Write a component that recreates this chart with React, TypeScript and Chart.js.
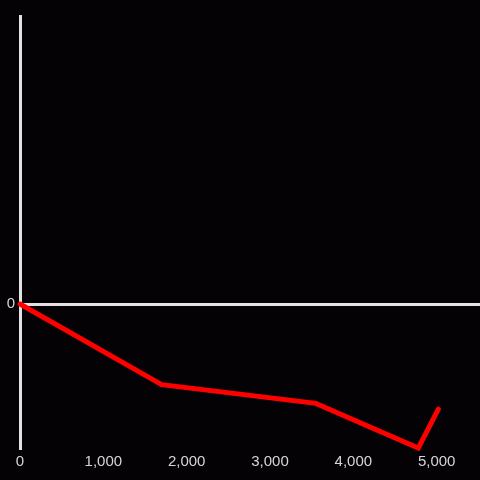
import React, { useEffect, useRef } from "react";
import { Chart, registerables } from "chart.js";

Chart.register(...registerables);

const xValues = [0, 1700, 3550, 4780, 5020];
const yValues = [0, -56, -69, -100, -73];
const xTickValues = [0, 1000, 2000, 3000, 4000, 5000];
const yTickValues = [0];

export default function App() {
  const ref = useRef<HTMLCanvasElement | null>(null);

  useEffect(() => {
    document.body.style.margin = "0";
    const canvas = ref.current;
    if (!canvas) return;
    const chart = new Chart(canvas, {
      type: "line",
      data: {
        datasets: [
          {
            data: xValues.map((x, i) => ({ x, y: yValues[i] })),
            borderColor: "#ff0000",
            borderWidth: 5,
            pointRadius: 0,
            tension: 0,
            fill: false,
            clip: false as any,
            borderCapStyle: "round",
          },
        ],
      },
      options: {
        animation: false,
        responsive: false,
        maintainAspectRatio: false,
        layout: { padding: { top: 16, right: 0, left: 0, bottom: 0 } },
        plugins: { legend: { display: false }, tooltip: { enabled: false } },
        scales: {
          x: {
            type: "linear",
            min: 0,
            max: 5520,
            afterBuildTicks: (s: any) => {
              s.ticks = xTickValues.map((v) => ({ value: v }));
            },
            afterFit: (s: any) => {
              s.height = 32;
            },
            grid: { display: false, drawTicks: false },
            border: { display: false },
            ticks: {
              color: "#d6d6d6",
              padding: 5,
              maxRotation: 0,
              font: { size: 15, family: "'Liberation Sans', Arial, sans-serif" },
              callback: (v: any) => Number(v).toLocaleString("en-US"),
            },
          },
          y: {
            type: "linear",
            min: -100,
            max: 200,
            afterBuildTicks: (s: any) => {
              s.ticks = yTickValues.map((v) => ({ value: v }));
            },
            afterFit: (s: any) => {
              s.width = 20;
            },
            grid: {
              color: "#e2e2e2",
              lineWidth: 3,
              drawTicks: false,
            },
            border: { display: true, color: "#e2e2e2", width: 3 },
            ticks: {
              color: "#d6d6d6",
              padding: 5,
              font: { size: 15, family: "'Liberation Sans', Arial, sans-serif" },
              callback: (v: any) => String(v),
            },
          },
        },
      },
    });
    return () => chart.destroy();
  }, []);

  return (
    <div style={{ position: "absolute", left: 0, top: 0, width: 480, height: 480, background: "#040205" }}>
      <canvas ref={ref} width={480} height={480} style={{ display: "block", width: 480, height: 480 }} />
    </div>
  );
}
